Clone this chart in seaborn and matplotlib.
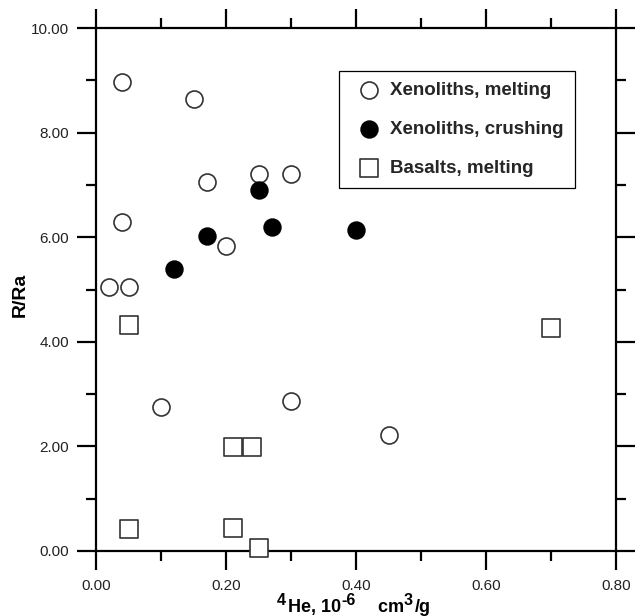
import matplotlib
matplotlib.use("Agg")
import matplotlib.pyplot as plt
import seaborn as sns
import pandas as pd
from matplotlib.ticker import MultipleLocator, FormatStrFormatter

# Data
xm_he = [0.04, 0.15, 0.25, 0.30, 0.17, 0.04, 0.20, 0.02, 0.05, 0.10, 0.30, 0.45]
xm_r = [8.97, 8.65, 7.20, 7.20, 7.05, 6.29, 5.83, 5.05, 5.05, 2.75, 2.87, 2.22]

xc_he = [0.12, 0.17, 0.25, 0.27, 0.40]
xc_r = [5.39, 6.02, 6.91, 6.19, 6.13]

bm_he = [0.05, 0.21, 0.24, 0.05, 0.21, 0.25, 0.70]
bm_r = [4.33, 1.99, 1.99, 0.42, 0.44, 0.05, 4.27]

labels = ["Xenoliths, melting", "Xenoliths, crushing", "Basalts, melting"]
xlabel_parts = [("4", True), ("He, 10", False), ("-6", True),
                ("    cm", False), ("3", True), ("/g", False)]
ylabel = "R/Ra"

sns.set_theme(style="white")
plt.rcParams["font.family"] = ["Liberation Sans", "DejaVu Sans"]

W, H = 637, 616
fig = plt.figure(figsize=(W/100, H/100), dpi=100)
ax = fig.add_axes([96/W, 1-551/H, 520/W, 523/H])

df_m = pd.DataFrame({"He": xm_he, "R": xm_r})
df_c = pd.DataFrame({"He": xc_he, "R": xc_r})
df_b = pd.DataFrame({"He": bm_he, "R": bm_r})

sns.scatterplot(data=df_m, x="He", y="R", ax=ax, marker="o", s=150,
                facecolor="white", edgecolor="#333333", linewidth=1.2,
                label=labels[0], zorder=3, clip_on=False)
sns.scatterplot(data=df_c, x="He", y="R", ax=ax, marker="o", s=150,
                color="black", edgecolor="black", linewidth=1.0,
                label=labels[1], zorder=3, clip_on=False)
sns.scatterplot(data=df_b, x="He", y="R", ax=ax, marker="s", s=150,
                facecolor="white", edgecolor="#333333", linewidth=1.2,
                label=labels[2], zorder=3, clip_on=False)

ax.set_xlim(0, 0.8)
ax.set_ylim(0, 10)
ax.xaxis.set_major_locator(MultipleLocator(0.2))
ax.xaxis.set_minor_locator(MultipleLocator(0.1))
ax.yaxis.set_major_locator(MultipleLocator(2))
ax.yaxis.set_minor_locator(MultipleLocator(1))
ax.xaxis.set_major_formatter(FormatStrFormatter("%.2f"))
ax.yaxis.set_major_formatter(FormatStrFormatter("%.2f"))

for s in ax.spines.values():
    s.set_visible(True)
    s.set_color("black")
    s.set_linewidth(1.6)

ax.tick_params(which="both", direction="out", top=True, right=True,
               bottom=True, left=True, color="black", width=1.6,
               labelsize=11, labelcolor="#222222")
ax.tick_params(which="major", length=13.5)
ax.tick_params(which="minor", length=7)
ax.tick_params(axis="y", which="major", pad=6)
ax.tick_params(axis="x", which="major", pad=7)
ax.set_xlabel("")
ax.set_ylabel("")

# y label
fig.text(20/W, 1-295/H, ylabel, rotation=90, ha="center", va="center",
         fontsize=14, fontweight="bold", color="black")

# x label built from pieces with raised superscripts
fig.canvas.draw()
renderer = fig.canvas.get_renderer()
x_px = 277.0
base_px = 612.0
for txt, sup in xlabel_parts:
    size = 11.5 if sup else 13
    y_px = base_px - 7 if sup else base_px
    t = fig.text(x_px/W, 1-y_px/H, txt, ha="left", va="baseline",
                 fontsize=size, fontweight="bold", color="black")
    bb = t.get_window_extent(renderer=renderer)
    x_px += bb.width + (2 if sup else 0)

leg = ax.legend(loc="upper left", bbox_to_anchor=(0.467, 0.918),
                prop={"weight": "bold", "size": 13.5}, frameon=True,
                fancybox=False, edgecolor="black", framealpha=1,
                handletextpad=0.15, labelspacing=1.15, borderpad=0.6,
                handlelength=2.0, markerscale=1.0, borderaxespad=0)
leg.get_frame().set_linewidth(0.9)

fig.savefig("out.png", dpi=100)
